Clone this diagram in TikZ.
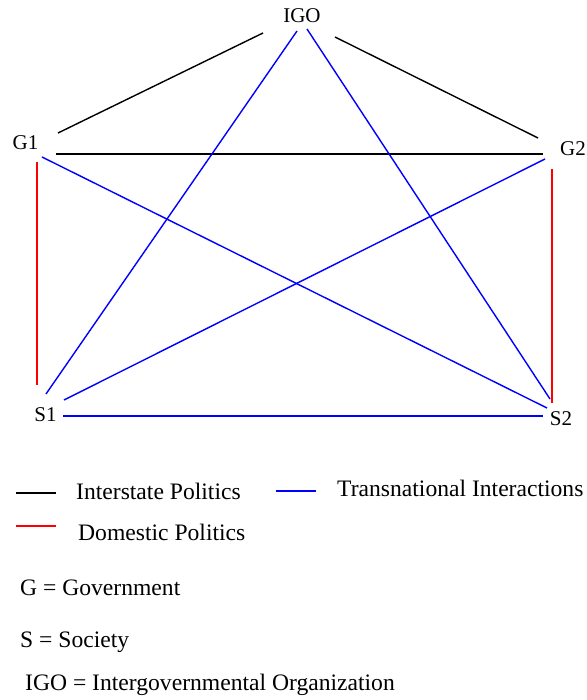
\documentclass[tikz,border=0pt]{standalone}
\usepackage{fontspec}
\setmainfont{Liberation Serif}
\usetikzlibrary{calc}
\begin{document}
\begin{tikzpicture}[x=1pt,y=-1pt,
 lbl/.style={inner sep=0pt, anchor=base, font=\fontsize{21}{25}\selectfont},
 leg/.style={inner sep=0pt, anchor=base west, font=\fontsize{23.6}{27}\selectfont},
 inter/.style={draw=black, line width=1.4pt},
 trans/.style={draw=blue, line width=1.4pt},
 dom/.style={draw=red, line width=1.4pt}]
\useasboundingbox (0,0) rectangle (586,700);
% labels
\node[lbl] (IGO) at (302,23) {IGO};
\node[lbl] (G1) at (25.5,150) {G1};
\node[lbl] (G2) at (573,156) {G2};
\node[lbl] (S1) at (45.5,421) {S1};
\node[lbl] (S2) at (561,425) {S2};
% interstate politics
\draw[inter] ($(IGO.base)+(-39,10)$) -- ($(G1.base)+(32.5,-17)$);
\draw[inter] ($(IGO.base)+(33,14)$) -- ($(G2.base)+(-35,-18)$);
\draw[inter, line width=1.8pt] ($(G1.base)+(30.5,4)$) -- ($(G2.base)+(-30,-2)$);
% domestic politics
\draw[dom] ($(G1.base)+(11.5,12)$) -- ($(S1.base)+(-8.5,-36)$);
\draw[dom] ($(G2.base)+(-21,13)$) -- ($(S2.base)+(-9,-22)$);
% transnational interactions
\draw[trans] ($(IGO.base)+(-5,8)$) -- ($(S1.base)+(0.5,-27)$);
\draw[trans] ($(IGO.base)+(5,6)$) -- ($(S2.base)+(-11,-26)$);
\draw[trans] ($(G1.base)+(16.5,7)$) -- ($(S2.base)+(-14,-17)$);
\draw[trans] ($(G2.base)+(-28,3)$) -- ($(S1.base)+(18.5,-21)$);
\draw[trans, line width=1.8pt] ($(S1.base)+(17.5,-5)$) -- ($(S2.base)+(-18,-9)$);
% legend
\coordinate (lk1) at (16,493); \coordinate (lk2) at (56,493);
\coordinate (lb1) at (276,491); \coordinate (lb2) at (316,491);
\coordinate (lr1) at (16,526); \coordinate (lr2) at (56,526);
\draw[inter] (lk1) -- (lk2);
\draw[trans] (lb1) -- (lb2);
\draw[dom] (lr1) -- (lr2);
\node[leg] (tInter) at (76,499) {Interstate Politics};
\node[leg] (tTrans) at (337,496) {Transnational Interactions};
\node[leg] (tDom) at (78,540) {Domestic Politics};
\node[leg] (tG) at (20,595) {G = Government};
\node[leg] (tS) at (20,647) {S = Society};
\node[leg] (tIGO) at (25,690) {IGO = Intergovernmental Organization};
\end{tikzpicture}
\end{document}
